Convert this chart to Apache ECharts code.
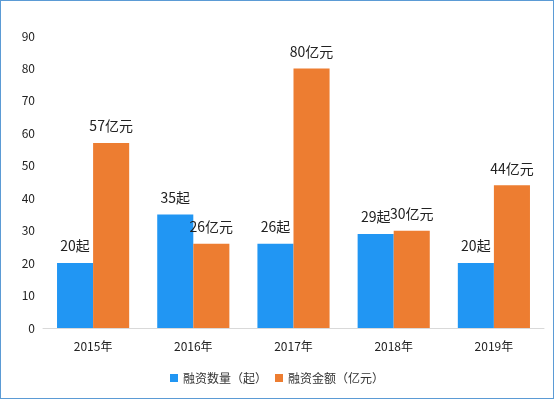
<!DOCTYPE html>
<html><head><meta charset="utf-8">
<script src="https://cdn.jsdelivr.net/npm/echarts@6/dist/echarts.min.js"></script>
<style>
html,body{margin:0;padding:0;background:#fff;}
#box{position:absolute;left:0;top:0;width:552px;height:397px;border:1px solid #5B9BD5;}
#c{width:552px;height:397px;}
</style></head>
<body><div id="box"><div id="c"></div></div>
<script>
const categories = ['2015年','2016年','2017年','2018年','2019年'];
const countValues = [20, 35, 26, 29, 20];
const amountValues = [57, 26, 80, 30, 44];
const seriesNames = ['融资数量（起）','融资金额（亿元）'];
const font = '"Noto Sans CJK SC", "Microsoft YaHei", sans-serif';
const chart = echarts.init(document.getElementById('c'));
chart.setOption({
  animation:false,
  textStyle:{fontFamily:font},
  grid:{left:42,right:9,top:35,bottom:70},
  legend:{bottom:9,left:'center',itemWidth:8,itemHeight:8,itemGap:8,icon:'rect',
    textStyle:{fontSize:12,color:'#333',fontFamily:font},data:seriesNames},
  xAxis:{type:'category',data:categories,
    axisLine:{lineStyle:{color:'#d9d9d9'}},axisTick:{show:false},
    axisLabel:{color:'#222',fontSize:12,margin:12,fontFamily:font}},
  yAxis:{type:'value',min:0,max:90,interval:10,
    axisLine:{show:false},axisTick:{show:false},splitLine:{show:false},
    axisLabel:{color:'#222',fontSize:12,margin:8,fontFamily:font}},
  series:[
    {name:seriesNames[0],type:'bar',data:countValues,barGap:'0%',barCategoryGap:'28%',
     itemStyle:{color:'#2196F3'},
     label:{show:true,position:'top',distance:10,fontSize:14,color:'#222',fontFamily:font,formatter:'{c}起'}},
    {name:seriesNames[1],type:'bar',data:amountValues,
     itemStyle:{color:'#ED7D31'},
     label:{show:true,position:'top',distance:10,fontSize:14,color:'#222',fontFamily:font,formatter:'{c}亿元'}}
  ]
});
</script></body></html>
